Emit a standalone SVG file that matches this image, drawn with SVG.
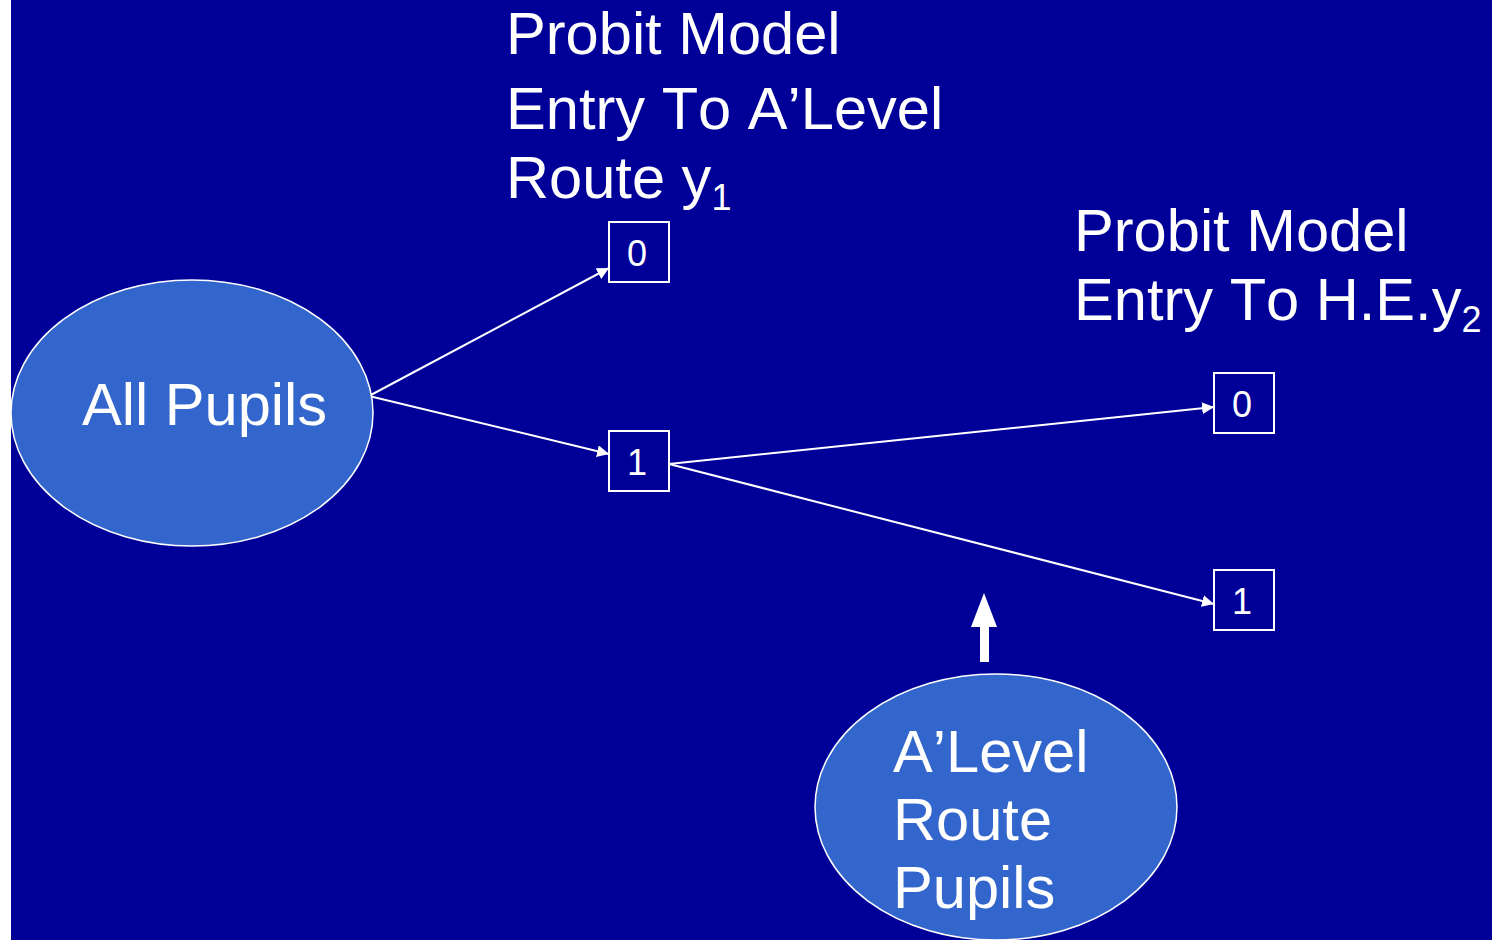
<svg xmlns="http://www.w3.org/2000/svg" width="1492" height="940" viewBox="0 0 1492 940">
<defs>
<style>
.t{font-family:"Liberation Sans",Arial,sans-serif;fill:#fff;font-size:59.6px;font-kerning:none}
.b{font-family:"Liberation Sans",Arial,sans-serif;fill:#fff;font-size:36px;text-anchor:middle}
.box{fill:none;stroke:#fff;stroke-width:2}
.ell{fill:#3366CC;stroke:#fff;stroke-width:1.5}
.c{stroke:#fff;stroke-width:2;fill:none;marker-end:url(#ah)}
</style>
<marker id="ah" viewBox="0 0 10 10" refX="10" refY="5" markerWidth="6" markerHeight="6" orient="auto" markerUnits="strokeWidth">
<path d="M0,0 L10,5 L0,10 z" fill="#fff"/>
</marker>
</defs>
<rect x="0" y="0" width="1492" height="940" fill="#fff"/>
<rect x="11" y="0" width="1481" height="940" fill="#000099"/>
<g id="title1">
<text class="t" x="506" y="54">Probit Model</text>
<text class="t" x="506" y="129">Entry To A’Level</text>
<text class="t" x="506" y="198">Route y<tspan font-size="36" dy="12">1</tspan></text>
</g>
<g id="title2">
<text class="t" x="1074" y="251">Probit Model</text>
<text class="t" x="1074" y="320">Entry To H.E.y<tspan font-size="36" dy="12">2</tspan></text>
</g>
<g id="connectors">
<line class="c" x1="369" y1="396" x2="609" y2="268"/>
<line class="c" x1="369" y1="396" x2="609" y2="454"/>
<line class="c" x1="669" y1="464" x2="1214" y2="407"/>
<line class="c" x1="669" y1="464" x2="1214" y2="604"/>
<path d="M980,662 L980,627 L971,627 L984,593 L997,627 L989,627 L989,662 z" fill="#fff"/>
</g>
<g id="allpupils">
<ellipse class="ell" cx="192" cy="413" rx="181" ry="133"/>
<text class="t" x="82" y="425">All Pupils</text>
</g>
<g id="alevel">
<ellipse class="ell" cx="996" cy="807" rx="181" ry="133"/>
<text class="t" x="893" y="772">A’Level</text>
<text class="t" x="893" y="840">Route</text>
<text class="t" x="893" y="908">Pupils</text>
</g>
<g id="box0a"><rect class="box" x="609" y="222" width="60" height="60"/><text class="b" x="637" y="266">0</text></g>
<g id="box1a"><rect class="box" x="609" y="431" width="60" height="60"/><text class="b" x="637" y="475">1</text></g>
<g id="box0b"><rect class="box" x="1214" y="373" width="60" height="60"/><text class="b" x="1242" y="417">0</text></g>
<g id="box1b"><rect class="box" x="1214" y="570" width="60" height="60"/><text class="b" x="1242" y="614">1</text></g>
</svg>
